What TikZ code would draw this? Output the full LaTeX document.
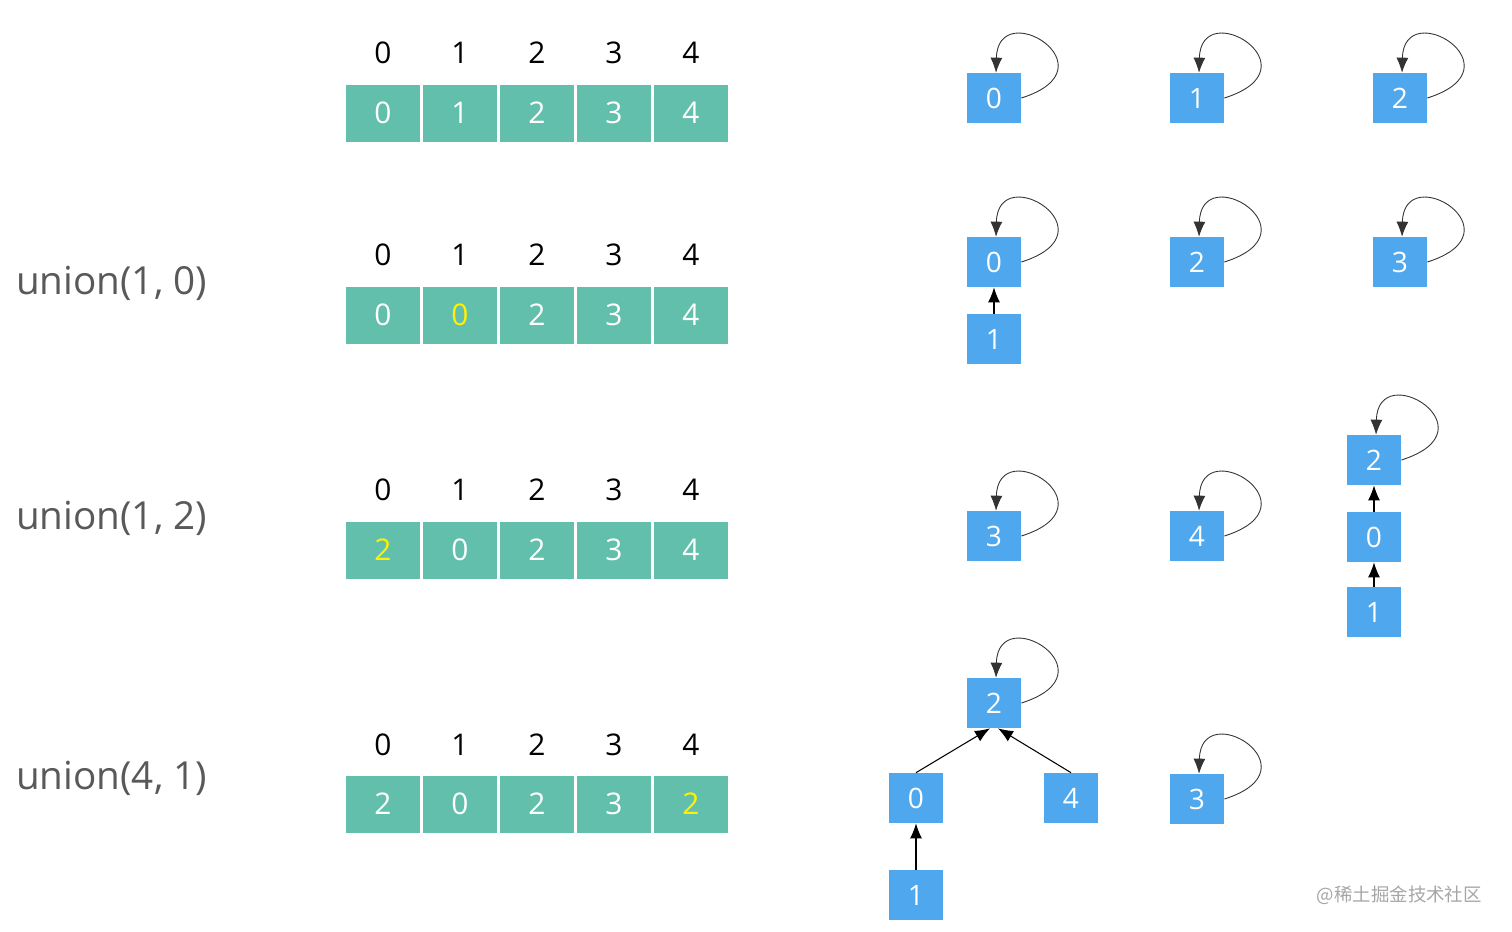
\documentclass[tikz,border=0pt]{standalone}
\usepackage{fontspec}
\setmainfont{Open Sans}
\newfontfamily\cjk{Noto Sans CJK SC}
\usetikzlibrary{arrows.meta}
\definecolor{cellteal}{RGB}{98,191,172}
\definecolor{nodeblue}{RGB}{79,167,238}
\definecolor{newval}{RGB}{255,242,0}
\definecolor{labgray}{RGB}{89,89,89}
\newcommand\chg{\color{newval}}
\begin{document}
\begin{tikzpicture}
  [x=0.02cm,y=0.02cm,
   cell/.style={fill=cellteal,minimum width=1.5cm,minimum height=1.14cm,inner sep=0pt,
     text=white,font=\fontsize{17}{20}\selectfont},
   idx/.style={font=\fontsize{17}{20}\selectfont},
   elem/.style={fill=nodeblue,minimum width=1.08cm,minimum height=1cm,inner sep=0pt,
     text=white,font=\fontsize{16}{19}\selectfont},
   op/.style={anchor=west,text=labgray,font=\fontsize{22}{26}\selectfont},
   tree/.style={-{Latex[length=3mm,width=2.4mm]},line width=0.6pt},
   loop/.style={-{Latex[length=3mm,width=2.4mm]},line width=0.5pt,draw=black!80}]
\useasboundingbox (0,0) rectangle (1512,-931);
% parent arrays
\foreach \v [count=\i from 0] in {0,1,2,3,4} {
  \node[idx] (ia\i) at (383+77*\i,-53) {\i};
  \node[cell] (a\i) at (383+77*\i,-113) {\v};
}
\foreach \v [count=\i from 0] in {0,{\chg 0},2,3,4} {
  \node[idx] (ib\i) at (383+77*\i,-255) {\i};
  \node[cell] (b\i) at (383+77*\i,-315) {\v};
}
\foreach \v [count=\i from 0] in {{\chg 2},0,2,3,4} {
  \node[idx] (ic\i) at (383+77*\i,-490) {\i};
  \node[cell] (c\i) at (383+77*\i,-550) {\v};
}
\foreach \v [count=\i from 0] in {2,0,2,3,{\chg 2}} {
  \node[idx] (id\i) at (383+77*\i,-745) {\i};
  \node[cell] (d\i) at (383+77*\i,-804) {\v};
}
\node[op] (op1) at (10,-283) {union(1, 0)};
\node[op] (op2) at (10,-518) {union(1, 2)};
\node[op] (op3) at (10,-778) {union(4, 1)};
% forests
\node[elem] (r1n0) at (994,-98) {0};
\node[elem] (r1n1) at (1197,-98) {1};
\node[elem] (r1n2) at (1400,-98) {2};
\node[elem] (r2n0) at (994,-262) {0};
\node[elem] (r2n1) at (994,-339) {1};
\node[elem] (r2n2) at (1197,-262) {2};
\node[elem] (r2n3) at (1400,-262) {3};
\node[elem] (r3n3) at (994,-536) {3};
\node[elem] (r3n4) at (1197,-536) {4};
\node[elem] (r3n2) at (1374,-460) {2};
\node[elem] (r3n0) at (1374,-537) {0};
\node[elem] (r3n1) at (1374,-612) {1};
\node[elem] (r4n2) at (994,-703) {2};
\node[elem] (r4n0) at (916,-798) {0};
\node[elem] (r4n4) at (1071,-798) {4};
\node[elem] (r4n1) at (916,-895) {1};
\node[elem] (r4n3) at (1197,-799) {3};
\foreach \n in {r1n0,r1n1,r1n2,r2n0,r2n2,r2n3,r3n3,r3n4,r3n2,r4n2,r4n3}
  \draw[loop] (\n.east) .. controls +(95,30) and +(2,78) .. ([xshift=0.04cm]\n.north);
\draw[tree] (r2n1) -- (r2n0);
\draw[tree] (r3n0) -- (r3n2);
\draw[tree] (r3n1) -- (r3n0);
\draw[tree] (r4n0.north) -- ([xshift=-0.08cm]r4n2.south);
\draw[tree] (r4n4.north) -- ([xshift=0.08cm]r4n2.south);
\draw[tree] (r4n1) -- (r4n0);
\node[anchor=east,text=black!35,font=\cjk\fontsize{10.5}{12}\selectfont] (wm) at (1488,-895) {@稀土掘金技术社区};
\end{tikzpicture}
\end{document}
